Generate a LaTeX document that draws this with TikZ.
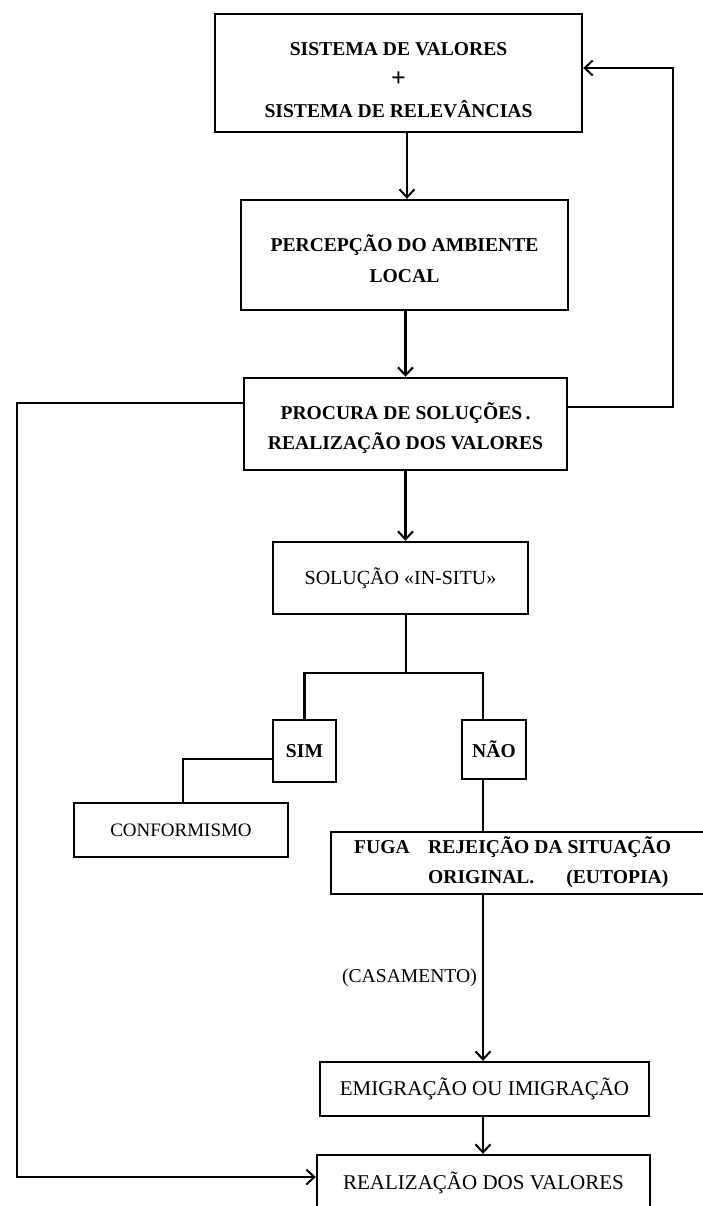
\documentclass[tikz,border=0pt]{standalone}
\usepackage{fontspec}
\setmainfont{Liberation Serif}
\usetikzlibrary{arrows.meta}
\begin{document}
\begin{tikzpicture}[x=1pt,y=-1pt,
  box/.style={draw, line width=2.4pt, rectangle, inner sep=0pt, align=center},
  ln/.style={line width=2.2pt},
  arr/.style={ln, -{Straight Barb[length=8pt,width=15pt,line width=2pt]}},
  bigb/.style={font=\fontsize{19.6}{31}\selectfont\bfseries},
  bigc/.style={font=\fontsize{19.6}{30}\selectfont\bfseries},
  reg/.style={font=\fontsize{20}{30}\selectfont},
]
\useasboundingbox (0,0) rectangle (703,1206);
\clip (0,0) rectangle (703,1206);

% boxes
\node[box, bigb, minimum width=367pt, minimum height=118pt] (B1) at (398.5,73)
  {\rule{0pt}{28pt}SISTEMA DE VALORES\\{\fontsize{26}{31}\selectfont +}\\SISTEMA DE RELEVÂNCIAS};
\node[box, bigb, minimum width=327pt, minimum height=110pt] (B2) at (404.5,255)
  {\rule{0pt}{25pt}PERCEPÇÃO DO AMBIENTE\\LOCAL};
\node[box, bigc, minimum width=323pt, minimum height=92pt] (B3) at (405.5,424)
  {\rule{0pt}{25pt}PROCURA DE SOLUÇÕES\,.\\REALIZAÇÃO DOS VALORES};
\node[box, reg, minimum width=255pt, minimum height=72pt] (B4) at (400.5,578)
  {SOLUÇÃO «IN-SITU»};
\node[box, bigb, minimum width=63pt, minimum height=62pt] (SIM) at (304.5,751) {SIM};
\node[box, bigb, minimum width=64pt, minimum height=59pt] (NAO) at (494,749.5) {NÃO};
\node[box, reg, font=\fontsize{19}{28}\selectfont, minimum width=214pt, minimum height=54pt] (CONF) at (181,830) {CONFORMISMO};
\node[box, minimum width=400pt, minimum height=62pt, anchor=north west] (FUGA) at (330,831) {};
\node[bigc, anchor=base west, inner sep=0pt] (fugaA) at (354,853)
  {\makebox[74pt][l]{FUGA}REJEIÇÃO DA SITUAÇÃO};
\node[bigc, anchor=base west, inner sep=0pt] (fugaB) at (428,883)
  {ORIGINAL.\hspace{32pt}(EUTOPIA)};
\node[box, reg, font=\fontsize{21}{30}\selectfont, minimum width=329pt, minimum height=54pt] (EMIG) at (484.5,1089)
  {EMIGRAÇÃO OU IMIGRAÇÃO};
\node[box, reg, font=\fontsize{21}{30}\selectfont, minimum width=333pt, minimum height=55pt] (REAL) at (483.5,1182.5)
  {REALIZAÇÃO DOS VALORES};

% helper coordinates
\coordinate (fork) at (406,673);
\coordinate (nx) at (483,0);
\coordinate (lc) at (17,800);

% connectors
\draw[arr] (B1.south -| B2.north) ++(2.5,0) coordinate (a1) -- (a1 |- B2.north);
\draw[arr] (B3.north |- B2.south) -- (B3.north);
\draw[arr] (B3.south) -- (B3.south |- B4.north);
\draw[arr] ([yshift=17pt]B3.east) -- ++(105,0) |- ([yshift=5pt]B1.east);
\draw[arr] ([yshift=21pt]B3.west) -| (lc) |- ([yshift=5.5pt]REAL.west);
\draw[ln] (B4.south -| fork) -- (fork);
\draw[ln] (SIM.north) |- (fork) -| (nx |- NAO.north);
\draw[ln] ([yshift=-8pt]SIM.west) -| ([xshift=2pt]CONF.north);
\draw[ln] (nx |- NAO.south) -- (nx |- FUGA.north);
\draw[arr] (nx |- FUGA.south) -- (nx |- EMIG.north);
\draw[arr] (nx |- EMIG.south) -- (nx |- REAL.north);
\node[reg, font=\fontsize{19.6}{28}\selectfont, anchor=base east, inner sep=0pt] (cas) at (477,982) {(CASAMENTO)};
\end{tikzpicture}
\end{document}
